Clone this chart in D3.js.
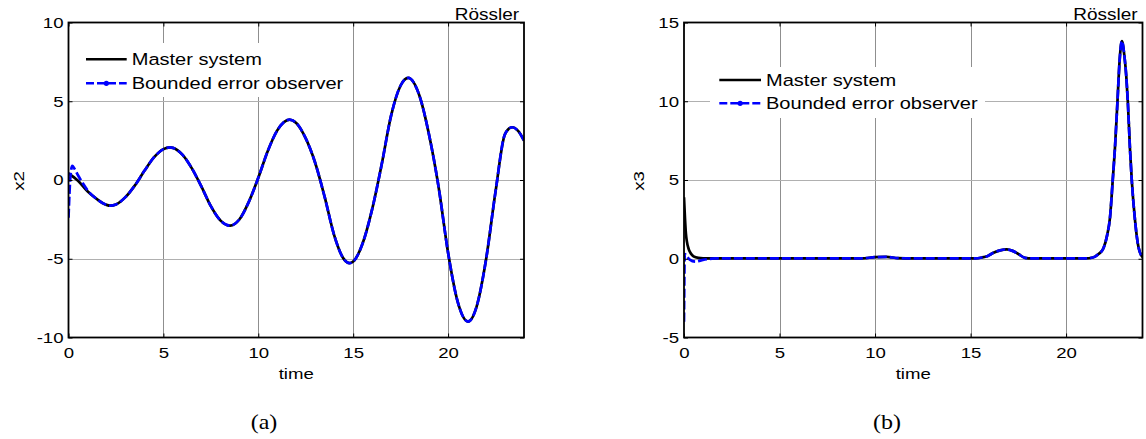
<!DOCTYPE html>
<html>
<head>
<meta charset="utf-8">
<script src="https://cdn.jsdelivr.net/npm/d3@7"></script>
<style>
  body { margin: 0; background: #fff; }
  svg { display: block; }
  text { font-family: "Liberation Sans", Arial, sans-serif; fill: #000; }
</style>
</head>
<body>
<div id="chart"></div>
<script>
/****************************
  * Data
  ***************************/

// panel (a): x2 of the master system
var x2Time = [0, 0.5, 1, 1.5, 2, 2.2, 2.5, 3, 3.5, 4,
              4.5, 5, 5.35, 5.5, 6, 6.5, 7, 7.5, 8, 8.52,
              9, 9.5, 10, 10.5, 11, 11.65, 12, 12.5, 13, 13.5,
              14, 14.5, 14.81, 15, 15.5, 16, 16.5, 17, 17.5, 17.9,
              18.5, 19, 19.5, 20, 20.5, 21.05, 21.5, 22, 22.5, 23,
              23.37, 23.7, 24];
var x2Master = [0.42, -0.05, -0.72, -1.22, -1.58, -1.63, -1.55, -1.09, -0.34, 0.58,
                1.43, 1.96, 2.07, 2.04, 1.61, 0.74, -0.41, -1.66, -2.56, -2.90,
                -2.51, -1.39, 0.14, 1.84, 3.15, 3.83, 3.62, 2.64, 1.08, -1.09,
                -3.51, -5.01, -5.28, -5.18, -4.02, -1.85, 0.98, 4.1, 6.0, 6.48,
                5.32, 2.86, -0.44, -4.62, -7.71, -8.99, -8.05, -5.05, -0.74, 2.92,
                3.35, 3.1, 2.5];
// observer transient before it joins the master curve
var x2ObsTime = [0, 0.1, 0.2, 0.3, 0.5, 0.75, 1.0];
var x2ObsHead = [-2.4, 0.2, 0.9, 0.75, 0.3, -0.2, -0.65];
var x2JoinTime = 1.5;

// panel (b): x3 of the master system
var x3Time = [0, 0.05, 0.1, 0.15, 0.25, 0.35, 0.5, 0.75, 1.0,
              3, 6, 9.3, 10, 10.6, 11.2, 12,
              15.2, 15.6, 15.9, 16.2, 16.55, 16.9, 17.2, 17.5, 17.85, 18.2,
              21.0, 21.4, 21.7, 21.95, 22.15, 22.3, 22.44, 22.57, 22.69, 22.8,
              22.92, 23.05, 23.15, 23.23, 23.35, 23.44, 23.61, 23.79, 24.0];
var x3Master = [3.9, 2.6, 1.6, 1.1, 0.6, 0.35, 0.15, 0.05, 0.03,
                0.02, 0.02, 0.02, 0.1, 0.12, 0.04, 0.02,
                0.02, 0.08, 0.18, 0.38, 0.53, 0.59, 0.5, 0.3, 0.06, 0.02,
                0.02, 0.08, 0.3, 0.65, 1.5, 2.63, 4.96, 7.28, 10.0, 12.55,
                13.82, 12.9, 11.6, 10.0, 6.85, 4.96, 2.42, 0.73, 0.1];
var x3ObsTime = [0, 0.04, 0.15, 0.3, 0.6, 0.9, 1.2, 1.6];
var x3ObsHead = [-4.0, 0.3, 0.15, -0.05, -0.18, -0.1, -0.03, 0.02];
var x3JoinTime = 3;

// axes and labels
var timeDomain = [0, 24];
var timeTicks = [0, 5, 10, 15, 20];
var x2Domain = [-10, 10];
var x2Ticks = [-10, -5, 0, 5, 10];
var x3Domain = [-5, 15];
var x3Ticks = [-5, 0, 5, 10, 15];
var legendLabels = ['Master system', 'Bounded error observer'];
var titleText = 'R\u00f6ssler';
var xLabel = 'time';
var yLabels = ['x2', 'x3'];
var captions = ['(a)', '(b)'];

/****************************
  * Style
  ***************************/

var SX = 1.2;  // the source figure is stretched horizontally
var stylesheet = {};
stylesheet['tickFont'] = 15.5;
stylesheet['legendFont'] = 16.7;
stylesheet['titleFont'] = 15.8;
stylesheet['captionFont'] = 20;
stylesheet['masterColor'] = '#000000';
stylesheet['observerColor'] = '#0000ff';
stylesheet['lineWidth'] = 2.7;
stylesheet['gridV'] = '#8f8f8f';
stylesheet['gridH'] = '#b0b0b0';

/****************************
  * Helpers
  ***************************/

// builds [t, y] pairs from two arrays
function pairs(ts, ys) {
    return ts.map(function(t, i) { return [t, ys[i]]; });
}

// observer = its own transient, then the master curve after joinTime
function observerSeries(headT, headY, ts, ys, joinTime) {
    var out = pairs(headT, headY);
    for (var i = 0; i < ts.length; i++) {
        if (ts[i] >= joinTime) out.push([ts[i], ys[i]]);
    }
    return out;
}

// plain hyphen minus, like the original tick labels
function fmt(d) {
    return String(d);
}

// text stretched horizontally like the source picture
function addText(g, x, y, str, size, anchor, rotate) {
    var tr = 'translate(' + x + ',' + y + ')' + (rotate ? ' rotate(' + rotate + ')' : '') +
             ' scale(' + SX + ',1)';
    return g.append('text')
        .attr('transform', tr)
        .attr('text-anchor', anchor || 'start')
        .style('font-size', size + 'px')
        .text(str);
}

/****************************
  * Panel
  ***************************/

function drawPanel(svg, id, coords, yDomain, yTicks, master, observer, legend, labels) {
    var left = coords.x, top = coords.y;
    var right = coords.x + coords.width, bottom = coords.y + coords.height;

    var xScale = d3.scaleLinear().domain(timeDomain).range([left, right]);
    var yScale = d3.scaleLinear().domain(yDomain).range([bottom, top]);

    var g = svg.append('g');

    // grid
    g.append('g').selectAll('line')
        .data(timeTicks.filter(function(d) { return d > timeDomain[0]; }))
        .join('line')
        .attr('x1', function(d) { return Math.round(xScale(d)) + 0.5; })
        .attr('x2', function(d) { return Math.round(xScale(d)) + 0.5; })
        .attr('y1', top).attr('y2', bottom)
        .style('stroke', stylesheet['gridV']).style('stroke-width', 1);
    g.append('g').selectAll('line')
        .data(yTicks.filter(function(d) { return d > yDomain[0] && d < yDomain[1]; }))
        .join('line')
        .attr('y1', function(d) { return Math.round(yScale(d)) + 0.5; })
        .attr('y2', function(d) { return Math.round(yScale(d)) + 0.5; })
        .attr('x1', left).attr('x2', right)
        .style('stroke', stylesheet['gridH']).style('stroke-width', 1);

    // curves
    svg.append('clipPath').attr('id', 'clip' + id)
        .append('rect')
        .attr('x', left).attr('y', top)
        .attr('width', coords.width).attr('height', coords.height);

    var line = d3.line()
        .x(function(d) { return xScale(d[0]); })
        .y(function(d) { return yScale(d[1]); })
        .curve(d3.curveMonotoneX);

    var curves = g.append('g').attr('clip-path', 'url(#clip' + id + ')');
    curves.append('path')
        .attr('d', line(master))
        .style('fill', 'none')
        .style('stroke', stylesheet['masterColor'])
        .style('stroke-width', stylesheet['lineWidth'])
        .style('stroke-linejoin', 'round');
    curves.append('path')
        .attr('d', line(observer))
        .style('fill', 'none')
        .style('stroke', stylesheet['observerColor'])
        .style('stroke-width', stylesheet['lineWidth'])
        .style('stroke-dasharray', '9,3');

    // legend (white box, no border)
    var lg = g.append('g');
    lg.append('rect')
        .attr('x', legend.boxX).attr('y', legend.boxY)
        .attr('width', legend.boxW).attr('height', legend.boxH)
        .style('fill', '#fff');
    legendLabels.forEach(function(label, i) {
        var ry = legend.rowY[i];
        var l = lg.append('line')
            .attr('x1', legend.lineX[0]).attr('x2', legend.lineX[1])
            .attr('y1', ry).attr('y2', ry)
            .style('stroke-width', 2.5);
        if (i === 0) {
            l.style('stroke', stylesheet['masterColor']);
        } else {
            l.style('stroke', stylesheet['observerColor']).style('stroke-dasharray', '8,3');
            lg.append('circle')
                .attr('cx', (legend.lineX[0] + legend.lineX[1]) / 2).attr('cy', ry)
                .attr('r', 2.6).style('fill', stylesheet['observerColor']);
        }
        addText(lg, legend.lineX[1] + 5, ry + 6, label, stylesheet['legendFont'], 'start');
    });

    // axes: ticks pointing inward, labels on bottom and left
    var xAxis = d3.axisBottom(xScale).tickValues(timeTicks).tickSize(-4)
        .tickSizeOuter(0).tickPadding(9).tickFormat(fmt);
    var yAxis = d3.axisLeft(yScale).tickValues(yTicks).tickSize(-4)
        .tickSizeOuter(0).tickPadding(5 / SX).tickFormat(fmt);
    var xTop = d3.axisTop(xScale).tickValues(timeTicks).tickSize(-4).tickSizeOuter(0).tickFormat('');
    var yRight = d3.axisRight(yScale).tickValues(yTicks).tickSize(-4).tickSizeOuter(0).tickFormat('');

    var axes = [
        [xAxis, 'translate(0,' + bottom + ')'],
        [yAxis, 'translate(' + left + ',0)'],
        [xTop, 'translate(0,' + top + ')'],
        [yRight, 'translate(' + right + ',0)']
    ];
    axes.forEach(function(a) {
        var ag = g.append('g').attr('transform', a[1]).call(a[0]);
        ag.select('.domain').remove();
        ag.selectAll('.tick line').style('stroke', '#000').style('stroke-width', 1);
        ag.selectAll('.tick text')
            .attr('transform', 'scale(' + SX + ',1)')
            .style('font-family', '"Liberation Sans", Arial, sans-serif')
            .style('font-size', stylesheet['tickFont'] + 'px')
            .style('fill', '#000');
    });

    // frame
    g.append('rect')
        .attr('x', left).attr('y', top)
        .attr('width', coords.width).attr('height', coords.height)
        .style('fill', 'none').style('stroke', '#000').style('stroke-width', 1.8);

    // texts
    addText(g, right - 5, top - 2.3, titleText, stylesheet['titleFont'], 'end');
    addText(g, (left + right) / 2, bottom + 41, xLabel, stylesheet['tickFont'], 'middle');
    addText(g, labels.yLabelX, (top + bottom) / 2 + 1, labels.yLabel, stylesheet['tickFont'], 'middle', -90)
        .attr('dy', '0.35em');
    addText(g, labels.captionX, 429, labels.caption, stylesheet['captionFont'], 'middle')
        .style('font-family', '"Liberation Serif", "DejaVu Serif", serif');
}

/****************************
  * Build
  ***************************/

var svg = d3.select('#chart').append('svg')
    .attr('width', 1146).attr('height', 439);

drawPanel(svg, 'a',
    {x: 68.5, y: 22.5, width: 455.5, height: 315},
    x2Domain, x2Ticks,
    pairs(x2Time, x2Master),
    observerSeries(x2ObsTime, x2ObsHead, x2Time, x2Master, x2JoinTime),
    {boxX: 77, boxY: 43, boxW: 273, boxH: 54, lineX: [86, 126.7], rowY: [59.3, 83.3]},
    {yLabel: yLabels[0], yLabelX: 18.3, caption: captions[0], captionX: 264});

drawPanel(svg, 'b',
    {x: 684, y: 22.5, width: 458.5, height: 315},
    x3Domain, x3Ticks,
    pairs(x3Time, x3Master),
    observerSeries(x3ObsTime, x3ObsHead, x3Time, x3Master, x3JoinTime),
    {boxX: 710, boxY: 67, boxW: 275, boxH: 51, lineX: [719.3, 761], rowY: [80, 103.3]},
    {yLabel: yLabels[1], yLabelX: 639, caption: captions[1], captionX: 887});
</script>
</body>
</html>
